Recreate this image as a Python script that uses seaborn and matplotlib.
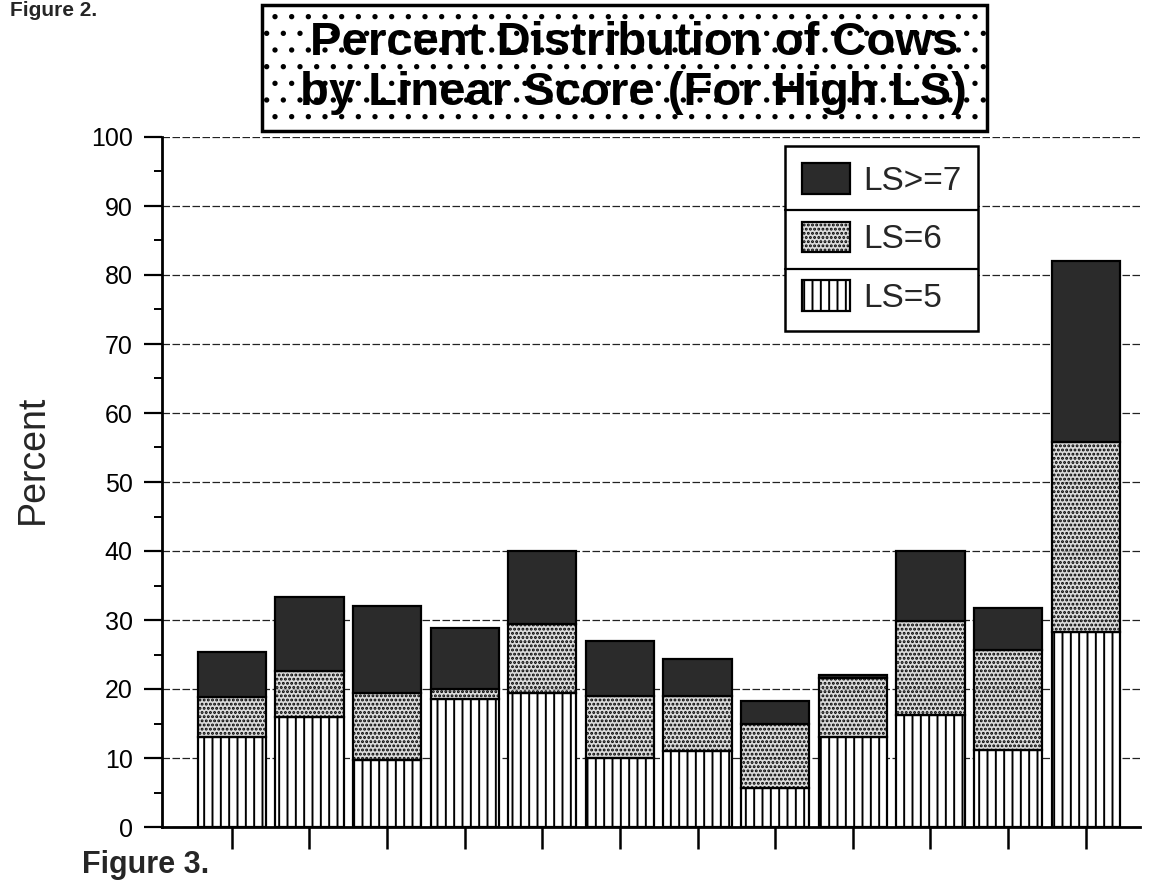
import numpy as np
import pandas as pd
import matplotlib
matplotlib.use("Agg")
import matplotlib.pyplot as plt
from matplotlib.patches import Patch, Rectangle
from matplotlib.lines import Line2D
from matplotlib.ticker import MultipleLocator
import seaborn as sns

# ---------------- data ----------------
categories = [f"Group {i}" for i in range(1, 13)]
ls5 = [13.0, 16.0, 9.7, 18.6, 19.4, 10.0, 11.0, 5.6, 13.0, 16.2, 11.1, 28.2]
ls6 = [5.9, 6.6, 9.7, 1.4, 10.0, 9.0, 8.0, 9.3, 8.6, 13.7, 14.5, 27.6]
ls7 = [6.5, 10.8, 12.6, 8.9, 10.6, 8.0, 5.3, 3.4, 0.5, 10.1, 6.1, 26.2]
series_labels = ["LS>=7", "LS=6", "LS=5"]
y_ticks = list(range(0, 101, 10))
title_text = "Percent Distribution of Cows\nby Linear Score (For High LS)"
y_label = "Percent"
caption = "Figure 3."
prev_caption = "Figure 2."

# ---------------- style ----------------
sns.set_theme(style="white")
plt.rcParams["font.family"] = ["Liberation Sans", "DejaVu Sans"]
plt.rcParams["hatch.linewidth"] = 1.4

W, H = 1159, 888
fig = plt.figure(figsize=(W / 100, H / 100), dpi=100)
ax = fig.add_axes([162 / W, 61 / H, (1140 - 162) / W, (827 - 137) / H])

df = pd.DataFrame({"cat": categories, "ls5": ls5, "ls6": ls6, "ls7": ls7})
df["b6"] = df["ls5"]
df["b7"] = df["ls5"] + df["ls6"]

face5 = "white"
face6 = (0.82, 0.82, 0.82, 0.78)
face7 = "#2b2b2b"
styles = [
    ("ls5", None, face5, "||"),
    ("ls6", "b6", face6, "...."),
    ("ls7", "b7", face7, None),
]
for col, bcol, fc, hatch in styles:
    kw = {}
    if bcol is not None:
        kw["bottom"] = df[bcol].to_numpy()
    sns.barplot(data=df, x="cat", y=col, order=categories, width=0.88,
                color="white", saturation=1, errorbar=None, ax=ax,
                zorder=2, **kw)
    for bar in ax.containers[-1]:
        bar.set_facecolor(fc)
        bar.set_edgecolor("black")
        bar.set_linewidth(1.6)
        bar.set_hatch(hatch)

# ---------------- axes ----------------
ax.set_xlim(-0.9, 11.7)
ax.set_ylim(0, 100)
ax.set_yticks(y_ticks)
ax.yaxis.set_minor_locator(MultipleLocator(5))
ax.set_xticks(range(len(categories)))
ax.set_xticklabels([""] * len(categories))
ax.set_xlabel("")
ax.set_ylabel("")
ax.yaxis.grid(True, which="major", linestyle=(0, (6, 2)), color="#222222", linewidth=0.9)
ax.xaxis.grid(False)
ax.set_axisbelow(True)
ax.tick_params(axis="y", which="major", direction="out", length=13, width=1.6,
               labelsize=18, pad=8, left=True, color="black", labelcolor="black")
ax.tick_params(axis="y", which="minor", direction="out", length=6, width=1.4,
               left=True, color="black")
ax.tick_params(axis="x", which="major", direction="out", length=16, width=1.8,
               bottom=True, color="black")
for s in ["top", "right"]:
    ax.spines[s].set_visible(False)
for s in ["left", "bottom"]:
    ax.spines[s].set_color("black")
    ax.spines[s].set_linewidth(2.0)

# ---------------- legend ----------------
handles = [
    Patch(facecolor=face7, edgecolor="black", linewidth=1.6),
    Patch(facecolor=face6, edgecolor="black", hatch="....", linewidth=1.6),
    Patch(facecolor=face5, edgecolor="black", hatch="||", linewidth=1.6),
]
leg = ax.legend(handles, series_labels, loc="upper left",
                bbox_to_anchor=(785 / W, 1 - 146 / H), bbox_transform=fig.transFigure,
                fontsize=24, frameon=True, fancybox=False, edgecolor="black",
                framealpha=1, handlelength=1.45, handleheight=1.05,
                labelspacing=0.75, borderpad=0.5, handletextpad=0.4,
                borderaxespad=0)
leg.get_frame().set_linewidth(1.8)
leg.set_zorder(5)

# separator lines between legend rows
fig.canvas.draw()
renderer = fig.canvas.get_renderer()
lbb = leg.get_window_extent(renderer)
centers = [t.get_window_extent(renderer) for t in leg.get_texts()]
for a, b in zip(centers[:-1], centers[1:]):
    ymid = ((a.y0 + a.y1) / 2 + (b.y0 + b.y1) / 2) / 2
    fig.lines.append(Line2D([lbb.x0 / W, lbb.x1 / W], [ymid / H, ymid / H],
                            transform=fig.transFigure, color="black",
                            linewidth=1.6, zorder=6))

# ---------------- title box & texts ----------------
fig.patches.append(Rectangle((262 / W, 1 - 131 / H), 725 / W, 126 / H,
                             transform=fig.transFigure, facecolor="white",
                             edgecolor="black", linewidth=2.5, hatch=".",
                             zorder=1))
fig.text((262 + 725 / 2) / W + 0.008, 1 - 68 / H, title_text, ha="center", va="center",
         fontsize=34, fontweight="bold", linespacing=1.2, zorder=3, color="black")

fig.text(33 / W, 1 - 459 / H, y_label, rotation=90, ha="center", va="center",
         fontsize=27)
fig.text(82 / W, 1 - 873 / H, caption, ha="left", va="baseline",
         fontsize=22, fontweight="bold")
fig.text(10 / W, 1 - 1 / H, prev_caption, ha="left", va="top",
         fontsize=15, fontweight="bold")

fig.savefig("out.png", dpi=100)
